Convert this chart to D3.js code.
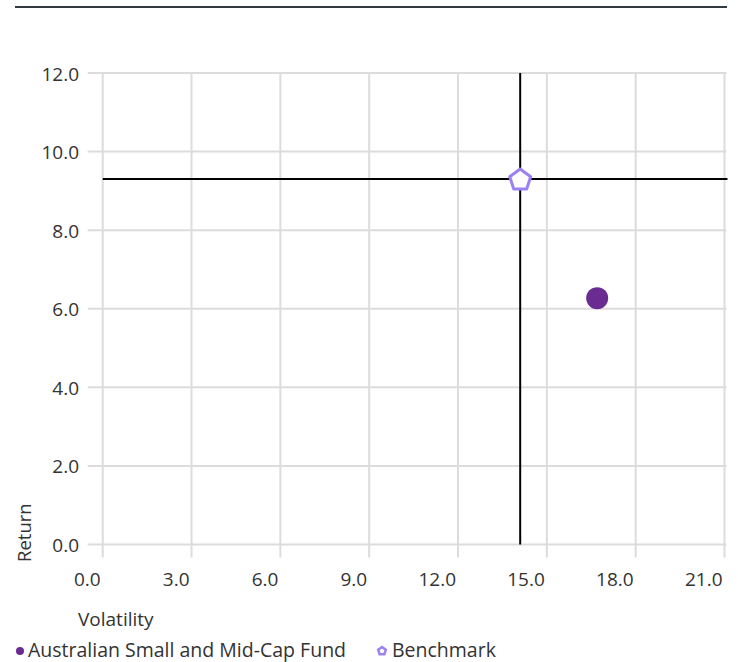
<!DOCTYPE html>
<html><head><meta charset="utf-8">
<script src="https://cdn.jsdelivr.net/npm/d3@7"></script>
<style>body{margin:0;background:#fff;font-family:"Open Sans",sans-serif;}</style>
</head><body><svg id="c" width="738" height="662"></svg>
<script>
const xTicks = [0, 3, 6, 9, 12, 15, 18, 21];
const yTicks = [0, 2, 4, 6, 8, 10, 12];
const seriesNames = ["Australian Small and Mid-Cap Fund", "Benchmark"];
const volatility = [16.7, 14.1];
const returns = [6.27, 9.30];
const colors = ["#6a2c91", "#9c82f0"];

const svg = d3.select("#c");
const x = d3.scaleLinear().domain([0, 21]).range([102.7, 724.5]);
const y = d3.scaleLinear().domain([0, 12]).range([544.5, 73]);
const font = "'Open Sans', sans-serif";
const txt = "#333";

// top rule
svg.append("line").attr("x1", 15).attr("x2", 727).attr("y1", 7).attr("y2", 7)
  .attr("stroke", "#333a3f").attr("stroke-width", 2);

// vertical gridlines
svg.append("g").selectAll("line").data(xTicks).join("line")
  .attr("x1", d => x(d)).attr("x2", d => x(d)).attr("y1", y(12)).attr("y2", y(0) + 13)
  .attr("stroke", "#dcdcdc").attr("stroke-width", 2);
// horizontal gridlines
svg.append("g").selectAll("line").data(yTicks).join("line")
  .attr("x1", x(0) - 15).attr("x2", x(21) + 2).attr("y1", d => y(d)).attr("y2", d => y(d))
  .attr("stroke", "#dcdcdc").attr("stroke-width", 2);

// x tick labels
svg.append("g").selectAll("text").data(xTicks).join("text")
  .attr("x", d => x(d) - 2).attr("y", y(0) + 41.5).attr("text-anchor", "end")
  .attr("font-family", font).attr("font-size", 19).attr("fill", txt)
  .text(d => d.toFixed(1));
// y tick labels
svg.append("g").selectAll("text").data(yTicks).join("text")
  .attr("x", 79).attr("y", d => y(d) + 7.5).attr("text-anchor", "end")
  .attr("font-family", font).attr("font-size", 19).attr("fill", txt)
  .text(d => d.toFixed(1));

// axis titles
svg.append("text").attr("x", 78).attr("y", 626).attr("font-family", font)
  .attr("font-size", 19).attr("fill", txt).text("Volatility");
svg.append("text").attr("transform", "translate(31,562) rotate(-90)")
  .attr("font-family", font).attr("font-size", 18.5).attr("fill", txt).text("Return");

// crosshair at benchmark
const bx = x(volatility[1]), by = y(returns[1]);
svg.append("line").attr("x1", x(0)).attr("x2", x(21) + 3).attr("y1", by).attr("y2", by)
  .attr("stroke", "#000").attr("stroke-width", 2);
svg.append("line").attr("x1", bx).attr("x2", bx).attr("y1", y(12)).attr("y2", y(0))
  .attr("stroke", "#000").attr("stroke-width", 2);

// fund point
svg.append("circle").attr("cx", x(volatility[0])).attr("cy", y(returns[0])).attr("r", 11)
  .attr("fill", colors[0]);
function pentagonPath(r) {
  const pts = d3.range(5).map(i => {
    const a = -Math.PI / 2 + i * 2 * Math.PI / 5;
    return [r * Math.cos(a), r * Math.sin(a)];
  });
  return "M" + pts.map(p => p.join(",")).join("L") + "Z";
}
// benchmark pentagon
svg.append("path").attr("d", pentagonPath(11)).attr("transform", `translate(${bx},${by + 1})`)
  .attr("fill", "#fff").attr("stroke", colors[1]).attr("stroke-width", 3).attr("stroke-linejoin", "round");

// legend
const lg = svg.append("g");
lg.append("circle").attr("cx", 20).attr("cy", 651).attr("r", 4).attr("fill", colors[0]);
lg.append("text").attr("x", 28).attr("y", 657).attr("font-family", font).attr("font-size", 19.5)
  .attr("fill", txt).text(seriesNames[0]);
lg.append("path").attr("d", pentagonPath(4)).attr("transform", "translate(382,651)")
  .attr("fill", "#fff").attr("stroke", colors[1]).attr("stroke-width", 2.5);
lg.append("text").attr("x", 392).attr("y", 657).attr("font-family", font).attr("font-size", 19.5)
  .attr("fill", txt).text(seriesNames[1]);
</script></body></html>
